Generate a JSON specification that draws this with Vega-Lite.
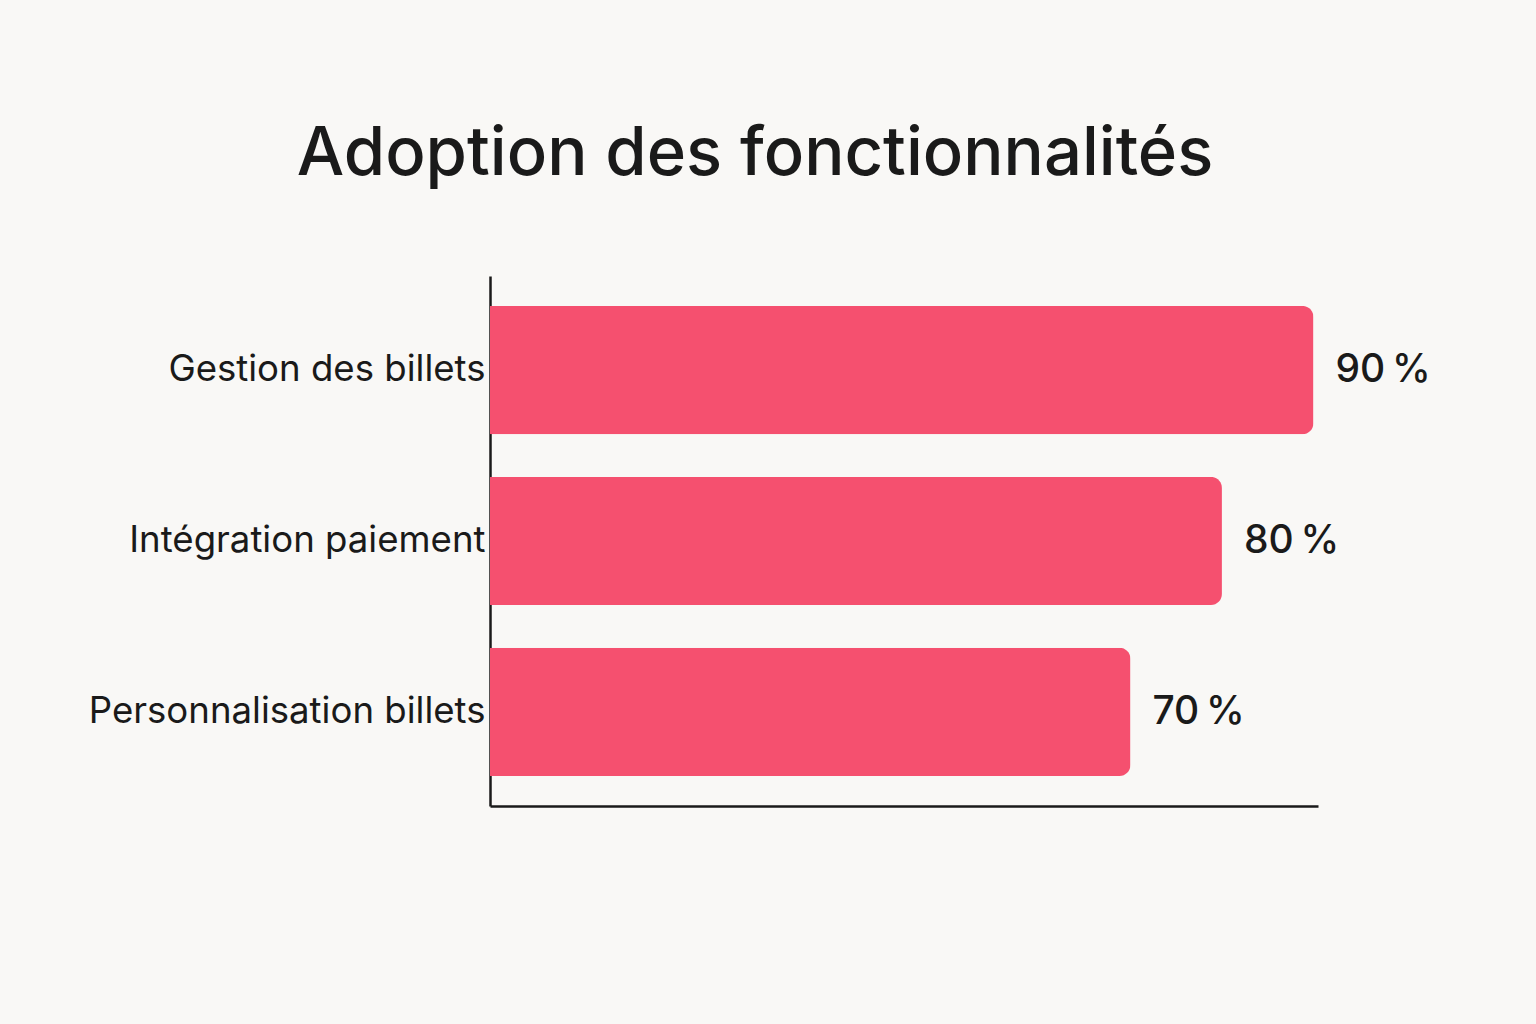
{
  "$schema": "https://vega.github.io/schema/vega-lite/v6.json",
  "autosize": {"type": "none"},
  "padding": {"left": 490, "top": 276, "right": 218, "bottom": 218},
  "width": 828,
  "height": 530,
  "background": "#F9F8F6",
  "title": {
    "text": "Adoption des fonctionnalités",
    "font": "Inter",
    "fontSize": 67,
    "fontWeight": 500,
    "color": "#1a1a1a",
    "anchor": "middle",
    "baseline": "alphabetic",
    "dx": -149,
    "offset": 34
  },
  "data": {
    "values": [
      {"feature": "Gestion des billets", "value": 90, "label": "90\u202f%"},
      {"feature": "Intégration paiement", "value": 80, "label": "80\u202f%"},
      {"feature": "Personnalisation billets", "value": 70, "label": "70\u202f%"}
    ]
  },
  "encoding": {
    "y": {
      "field": "feature",
      "type": "nominal",
      "sort": null,
      "title": null,
      "scale": {"paddingInner": 0.25, "paddingOuter": 0.175},
      "axis": {
        "domainColor": "#1a1a1a",
        "domainWidth": 2.5,
        "ticks": false,
        "labelFont": "Inter",
        "labelFontSize": 36.6,
        "labelColor": "#1a1a1a",
        "labelPadding": 5,
        "labelLimit": 600
      }
    },
    "x": {
      "field": "value",
      "type": "quantitative",
      "title": null,
      "scale": {"domain": [0, 90.5], "nice": false},
      "axis": {
        "domainColor": "#1a1a1a",
        "domainWidth": 2.5,
        "ticks": false,
        "labels": false,
        "grid": false
      }
    }
  },
  "layer": [
    {
      "mark": {
        "type": "bar",
        "color": "#F5506F",
        "cornerRadiusTopRight": 11,
        "cornerRadiusBottomRight": 11
      }
    },
    {
      "mark": {
        "type": "text",
        "align": "left",
        "baseline": "middle",
        "dx": 22,
        "font": "Inter",
        "fontSize": 39,
        "fontWeight": 500,
        "color": "#1a1a1a"
      },
      "encoding": {"text": {"field": "label"}}
    }
  ],
  "config": {"view": {"stroke": null}}
}
